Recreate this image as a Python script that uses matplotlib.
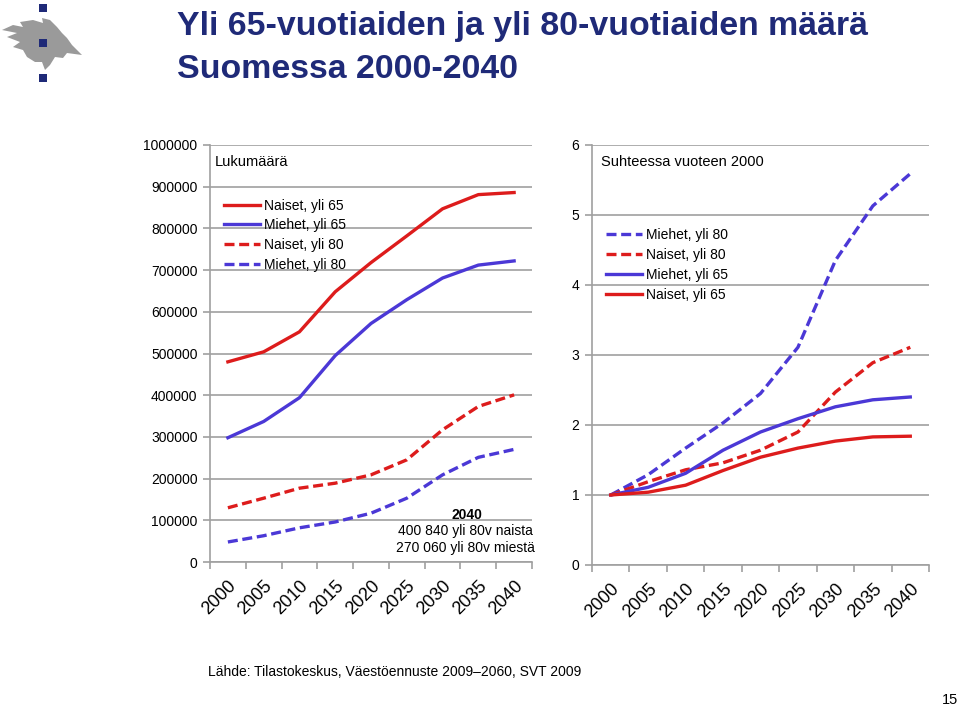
import matplotlib
matplotlib.use("Agg")
import matplotlib.pyplot as plt
from matplotlib.patches import Polygon, Rectangle
from matplotlib.ticker import FuncFormatter
import numpy as np

plt.rcParams['font.family'] = ['Liberation Sans', 'DejaVu Sans']

years = ['2000', '2005', '2010', '2015', '2020', '2025', '2030', '2035', '2040']

# Lukumäärä (left)
naiset65 = [480000, 504000, 552000, 648000, 718000, 782000, 847000, 881000, 886000]
miehet65 = [298000, 337000, 394000, 495000, 572000, 629000, 681000, 712000, 722000]
naiset80 = [130000, 153000, 177000, 189000, 209000, 245000, 317000, 373000, 400840]
miehet80 = [48000, 63000, 82000, 96000, 117000, 153000, 209000, 251000, 270060]

# Suhteessa vuoteen 2000 (right)
r_miehet80 = [1.0, 1.29, 1.67, 2.03, 2.45, 3.11, 4.35, 5.13, 5.59]
r_naiset80 = [1.0, 1.19, 1.36, 1.46, 1.64, 1.90, 2.47, 2.89, 3.11]
r_miehet65 = [1.0, 1.11, 1.31, 1.64, 1.90, 2.09, 2.26, 2.36, 2.40]
r_naiset65 = [1.0, 1.04, 1.14, 1.35, 1.54, 1.67, 1.77, 1.83, 1.84]

RED = '#DD1C1C'
BLUE = '#4B38D6'
GRID = '#A0A0A0'
NAVY = '#1F2A78'
W, H = 960, 708

fig = plt.figure(figsize=(9.6, 7.08), dpi=100)


def px(x, y):
    return x / W, 1 - y / H


def rect(l, t, r, b):
    return [l / W, 1 - b / H, (r - l) / W, (b - t) / H]


def style_axes(ax, ymax, step):
    n = len(years)
    ax.set_xlim(0, n)
    ax.set_ylim(0, ymax)
    ax.set_yticks(np.arange(0, ymax + step / 2, step))
    ax.yaxis.set_major_formatter(FuncFormatter(lambda v, p: '%d' % round(v)))
    ax.yaxis.grid(True, color=GRID, linewidth=1.2)
    ax.set_axisbelow(True)
    for s in ['top', 'right']:
        ax.spines[s].set_visible(False)
    for s in ['left', 'bottom']:
        ax.spines[s].set_color(GRID)
        ax.spines[s].set_linewidth(1.2)
    ax.set_xticks(np.arange(0, n + 1))
    ax.set_xticklabels([])
    ax.set_xticks(np.arange(n) + 0.5, minor=True)
    ax.set_xticklabels(years, minor=True, rotation=45, ha='right',
                       rotation_mode='anchor', fontsize=13)
    ax.tick_params(axis='x', which='major', length=5, color=GRID, width=1.2, direction='out')
    ax.tick_params(axis='x', which='minor', length=0, pad=11)
    ax.tick_params(axis='y', length=5, color=GRID, width=1.2, labelsize=10, pad=4)


x = np.arange(len(years)) + 0.5
lw = 2.4
dash = (0, (3.0, 1.4))

# Left chart
ax1 = fig.add_axes(rect(210, 145, 532, 562))
style_axes(ax1, 1000000, 100000)
ax1.plot(x, naiset65, color=RED, lw=lw, solid_joinstyle='round', label='Naiset, yli 65')
ax1.plot(x, miehet65, color=BLUE, lw=lw, solid_joinstyle='round', label='Miehet, yli 65')
ax1.plot(x, naiset80, color=RED, lw=lw, ls=dash, label='Naiset, yli 80')
ax1.plot(x, miehet80, color=BLUE, lw=lw, ls=dash, label='Miehet, yli 80')
ax1.legend(loc='upper left', bbox_to_anchor=(0.025, 0.885), frameon=False, fontsize=10,
           handlelength=2.6, handletextpad=0.3, labelspacing=0.42, borderaxespad=0)
ax1.text(0.015, 0.975, 'Lukumäärä', transform=ax1.transAxes, fontsize=10.5, va='top')
ax1.text(0.797, 0.113, '2040', transform=ax1.transAxes, fontsize=10, fontweight='bold',
         ha='center', va='center')
ax1.text(0.792, 0.092, '400 840 yli 80v naista\n270 060 yli 80v miestä', transform=ax1.transAxes,
         fontsize=10, ha='center', va='top', linespacing=1.3)

# Right chart
ax2 = fig.add_axes(rect(592, 145, 929, 565))
style_axes(ax2, 6, 1)
ax2.plot(x, r_miehet80, color=BLUE, lw=lw, ls=dash, label='Miehet, yli 80')
ax2.plot(x, r_naiset80, color=RED, lw=lw, ls=dash, label='Naiset, yli 80')
ax2.plot(x, r_miehet65, color=BLUE, lw=lw, solid_joinstyle='round', label='Miehet, yli 65')
ax2.plot(x, r_naiset65, color=RED, lw=lw, solid_joinstyle='round', label='Naiset, yli 65')
ax2.legend(loc='upper left', bbox_to_anchor=(0.025, 0.815), frameon=False, fontsize=10,
           handlelength=2.6, handletextpad=0.3, labelspacing=0.42, borderaxespad=0)
ax2.text(0.028, 0.975, 'Suhteessa vuoteen 2000', transform=ax2.transAxes, fontsize=10.5, va='top')

# Title
fig.text(*px(177, 35), 'Yli 65-vuotiaiden ja yli 80-vuotiaiden määrä', color=NAVY,
         fontsize=24.4, fontweight='bold', va='baseline')
fig.text(*px(177, 78), 'Suomessa 2000-2040', color=NAVY,
         fontsize=24.4, fontweight='bold', va='baseline')

# Logo: flame and squares
flame = [(2, 30), (13, 25), (23, 27), (20, 22), (33, 20), (43, 23), (42, 18), (50, 20),
         (57, 27), (62, 33), (67, 38), (72, 45), (82, 55), (67, 53), (63, 58), (55, 57),
         (50, 65), (45, 70), (42, 62), (35, 62), (27, 57), (23, 50), (13, 47), (20, 42),
         (7, 37), (17, 33)]
fig.patches.append(Polygon([px(a, b) for a, b in flame], closed=True, facecolor='#9A9A9A',
                           edgecolor='none', transform=fig.transFigure, figure=fig))
for cy in [8, 43, 78]:
    fig.patches.append(Rectangle(px(39, cy + 4), 8 / W, 8 / H, facecolor=NAVY, edgecolor='none',
                                 transform=fig.transFigure, figure=fig))

# Source and page number
fig.text(*px(208, 672), 'Lähde: Tilastokeskus, Väestöennuste 2009–2060, SVT 2009',
         fontsize=10, va='center')
fig.text(*px(958, 704), '15', fontsize=10.5, ha='right', va='baseline')

fig.savefig('out.png', dpi=100)
